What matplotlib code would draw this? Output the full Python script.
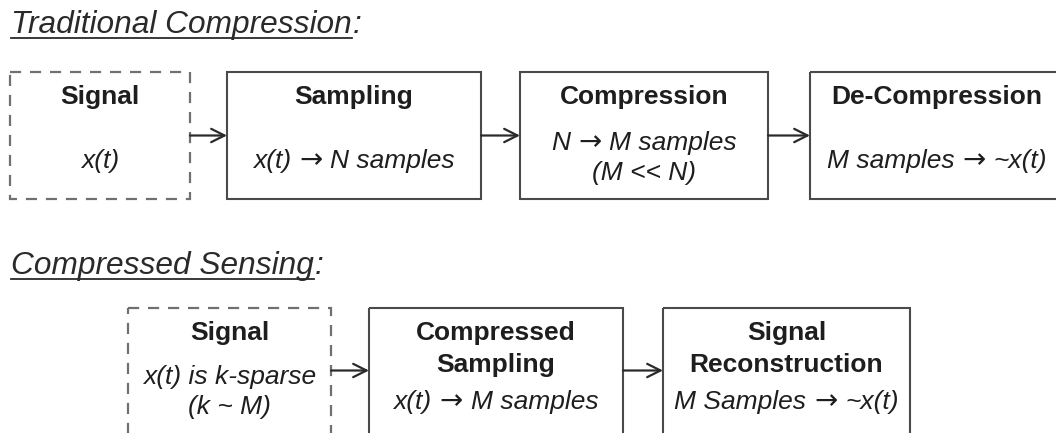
## Block diagram: traditional compression vs compressed sensing
import matplotlib.pyplot as plt
from matplotlib.patches import Rectangle
from matplotlib.lines import Line2D

plt.rcParams['font.family'] = ['Liberation Sans', 'DejaVu Sans']

## section titles
titles = ["Traditional Compression", "Compressed Sensing"]

## top row: (bold heading lines, italic lines)
top_heads = [["Signal"], ["Sampling"], ["Compression"], ["De-Compression"]]
top_texts = [["x(t)"], ["x(t) \u2192 N samples"], ["N \u2192 M samples", "(M << N)"],
             ["M samples \u2192 ~x(t)"]]
top_dashed = [True, False, False, False]

## bottom row
bot_heads = [["Signal"], ["Compressed", "Sampling"], ["Signal", "Reconstruction"]]
bot_texts = [["x(t) is k-sparse", "(k ~ M)"], ["x(t) \u2192 M samples"],
             ["M Samples \u2192 ~x(t)"]]
bot_dashed = [True, False, False]

W, H = 1056, 433
fig = plt.figure(figsize=(W / 100, H / 100), dpi=100)
ax = fig.add_axes([0, 0, 1, 1])
ax.set_xlim(0, W)
ax.set_ylim(H, 0)
ax.axis('off')
fig.canvas.draw()
rend = fig.canvas.get_renderer()

txtcol = '#1e1e1e'
FS = 19
GAP = 8   # space either side of the arrow sign


def text_width(t):
    bb = t.get_window_extent(renderer=rend)
    return bb.width


def draw_line(cx, y, s):
    ## italic line; the arrow sign is drawn in DejaVu Sans (larger glyph)
    if '\u2192' not in s:
        ax.text(cx, y, s, ha='center', va='center', fontsize=FS,
                style='italic', color=txtcol)
        return
    left, right = [p.strip() for p in s.split('\u2192')]
    parts = [(left, 'Liberation Sans', 'italic', FS),
             ('\u2192', 'DejaVu Sans', 'normal', FS * 1.05),
             (right, 'Liberation Sans', 'italic', FS)]
    objs = []
    for p, fam, st, fs in parts:
        t = ax.text(0, y + 7, p, ha='left', va='baseline', fontsize=fs,
                    family=fam, style=st, color=txtcol)
        objs.append(t)
    ws = [text_width(t) for t in objs]
    x = cx - (sum(ws) + 2 * GAP) / 2
    for t, w in zip(objs, ws):
        t.set_x(x)
        x += w + GAP


def draw_row(xs, ys, heads, texts, dashed, head_ys, text_ys):
    for i, (x0, x1) in enumerate(xs):
        if dashed[i]:
            r = Rectangle((x0, ys[0]), x1 - x0, ys[1] - ys[0], fill=False,
                          ec='#707070', lw=1.6, ls=(0, (5, 4)))
        else:
            r = Rectangle((x0, ys[0]), x1 - x0, ys[1] - ys[0], fill=False,
                          ec='#4a4a4a', lw=1.5)
        ax.add_patch(r)
        cx = (x0 + x1) / 2
        for s, y in zip(heads[i], head_ys[len(heads[i])]):
            ax.text(cx, y, s, ha='center', va='center', fontsize=FS,
                    fontweight='bold', color=txtcol)
        for s, y in zip(texts[i], text_ys[(len(heads[i]), len(texts[i]))]):
            draw_line(cx, y, s)
        if i < len(xs) - 1:
            ay = (ys[0] + min(ys[1], H)) / 2
            ax.annotate('', xy=(xs[i + 1][0], ay), xytext=(x1, ay),
                        arrowprops=dict(arrowstyle='->', lw=1.6, color='#2a2a2a',
                                        mutation_scale=24, shrinkA=0, shrinkB=0))


## layout (pixel coords)
draw_row([(10, 190), (227, 481), (520, 768), (810, 1064)], (72, 199),
         top_heads, top_texts, top_dashed,
         {1: [97]}, {(1, 1): [161], (1, 2): [143, 173]})
draw_row([(128, 331), (369, 623), (663, 910)], (308, 450),
         bot_heads, bot_texts, bot_dashed,
         {1: [333], 2: [333, 365]}, {(1, 2): [377, 407], (2, 1): [402], (1, 1): [402]})

## section titles, underlined (colon not underlined)
for s, y in zip(titles, [33, 274]):
    t = ax.text(11, y, s, ha='left', va='baseline', fontsize=22.8, style='italic',
                color='#2a2a2a')
    x_end = 11 + text_width(t)
    ax.add_line(Line2D([11, x_end], [y + 5, y + 5], color='#2a2a2a', lw=1.3))
    ax.text(x_end + 1, y, ':', ha='left', va='baseline', fontsize=22.8,
            style='italic', color='#2a2a2a')

fig.savefig('out.png', dpi=100)
